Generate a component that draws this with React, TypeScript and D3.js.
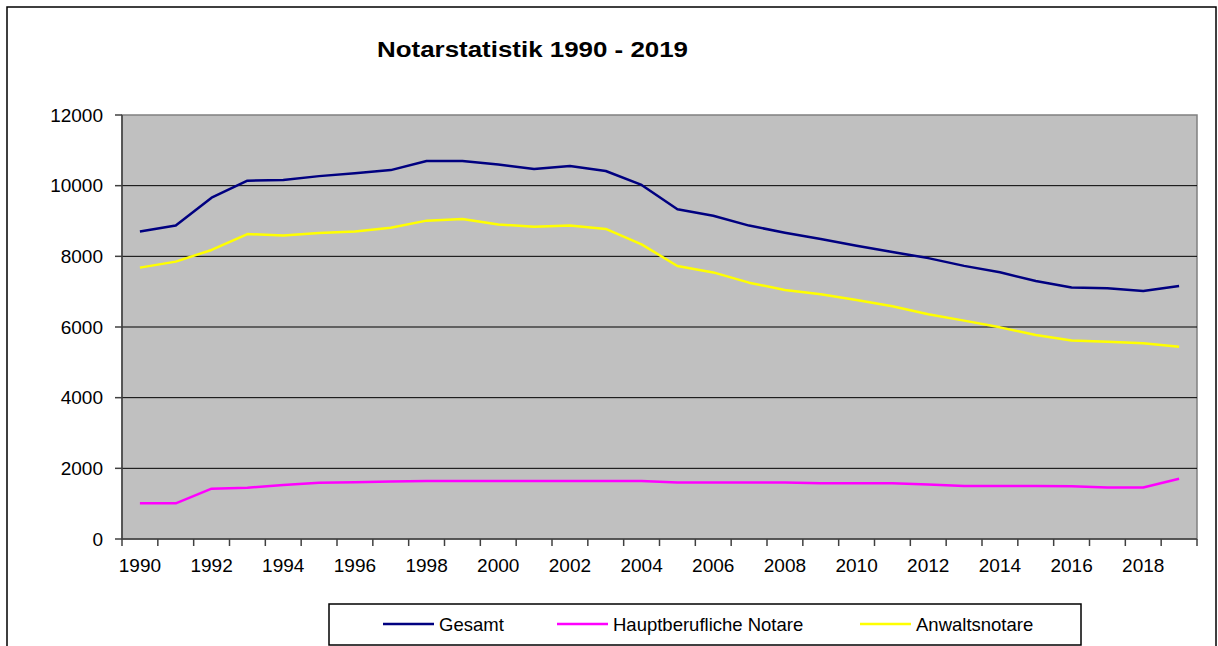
import React from 'react';
import * as d3 from 'd3';

// Notarstatistik 1990 - 2019
const years = d3.range(1990, 2020).map(String);
const yTicks = [0, 2000, 4000, 6000, 8000, 10000, 12000];

const gesamt = [
  8700, 8870, 9660, 10140, 10160, 10270, 10350, 10440, 10700, 10700,
  10600, 10470, 10555, 10415, 10020, 9330, 9150, 8870, 8670, 8490,
  8300, 8120, 7950, 7730, 7550, 7300, 7120, 7095, 7020, 7160,
];
const hauptberuflich = [
  1010, 1010, 1425, 1450, 1530, 1595, 1605, 1630, 1640, 1640,
  1640, 1640, 1640, 1640, 1640, 1600, 1600, 1600, 1600, 1575,
  1575, 1575, 1540, 1500, 1500, 1500, 1490, 1460, 1460, 1705,
];
const anwalt = [
  7680, 7850, 8180, 8630, 8590, 8660, 8700, 8810, 9010, 9055,
  8900, 8840, 8870, 8775, 8340, 7725, 7545, 7255, 7050, 6925,
  6765, 6585, 6360, 6180, 5990, 5775, 5615, 5585, 5540, 5440,
];

const series = [
  { name: 'Gesamt', values: gesamt, color: '#000080' },
  { name: 'Hauptberufliche Notare', values: hauptberuflich, color: '#FF00FF' },
  { name: 'Anwaltsnotare', values: anwalt, color: '#FFFF00' },
];

const W = 1218, H = 646;
const plot = { left: 122, top: 115, right: 1197, bottom: 539 };
const font = '"Liberation Sans", Arial, sans-serif';

export default function App() {
  const x = d3.scaleBand().domain(years).range([plot.left, plot.right]);
  const y = d3.scaleLinear().domain([0, 12000]).range([plot.bottom, plot.top]);
  const line = d3.line<number>()
    .x((d, i) => x(years[i])! + x.bandwidth() / 2)
    .y(d => y(d));

  const legendX = [383, 557, 860];

  return (
    <svg width={W} height={H} style={{ position: 'absolute', left: 0, top: 0 }} fontFamily={font}>
      <rect x={0} y={0} width={W} height={H} fill='#fff' />
      <rect x={7} y={7} width={1209} height={660} fill='none' stroke='#000' strokeWidth={1.5} />

      {/* Title */}
      <text x={377} y={57} fontSize={22} fontWeight='bold' textLength={311} lengthAdjust='spacingAndGlyphs'>
        Notarstatistik 1990 - 2019
      </text>

      {/* Plot area */}
      <rect x={plot.left} y={plot.top} width={plot.right - plot.left} height={plot.bottom - plot.top}
        fill='#C0C0C0' stroke='#808080' strokeWidth={1.5} />
      {yTicks.filter(t => t > 0 && t < 12000).map(t => (
        <line key={t} x1={plot.left} x2={plot.right} y1={y(t)} y2={y(t)} stroke='#000' strokeWidth={1} />
      ))}

      {/* Y axis */}
      <line x1={plot.left} x2={plot.left} y1={plot.top} y2={plot.bottom} stroke='#404040' strokeWidth={1.5} />
      {yTicks.map(t => (
        <g key={t}>
          <line x1={plot.left - 7} x2={plot.left} y1={y(t)} y2={y(t)} stroke='#404040' strokeWidth={1.5} />
          <text x={103} y={y(t) + 6.5} fontSize={19} textAnchor='end' fill='#000'>{t}</text>
        </g>
      ))}

      {/* X axis */}
      <line x1={plot.left} x2={plot.right} y1={plot.bottom} y2={plot.bottom} stroke='#404040' strokeWidth={1.5} />
      {years.map(yr => (
        <line key={yr} x1={x(yr)!} x2={x(yr)!} y1={plot.bottom} y2={plot.bottom + 7} stroke='#404040' strokeWidth={1.5} />
      ))}
      <line x1={plot.right} x2={plot.right} y1={plot.bottom} y2={plot.bottom + 7} stroke='#404040' strokeWidth={1.5} />
      {years.filter((_, i) => i % 2 === 0).map(yr => (
        <text key={yr} x={x(yr)! + x.bandwidth() / 2} y={572} fontSize={19} textAnchor='middle' fill='#000'>{yr}</text>
      ))}

      {/* Series */}
      {series.map(s => (
        <path key={s.name} d={line(s.values)!} fill='none' stroke={s.color} strokeWidth={2.5} strokeLinejoin='round' />
      ))}

      {/* Legend */}
      <rect x={329} y={604} width={752} height={41} fill='#fff' stroke='#000' strokeWidth={1.5} />
      {series.map((s, i) => (
        <g key={s.name}>
          <line x1={legendX[i]} x2={legendX[i] + 51} y1={624} y2={624} stroke={s.color} strokeWidth={2.5} />
          <text x={legendX[i] + 56} y={630.5} fontSize={18.5} fill='#000'>{s.name}</text>
        </g>
      ))}
    </svg>
  );
}
